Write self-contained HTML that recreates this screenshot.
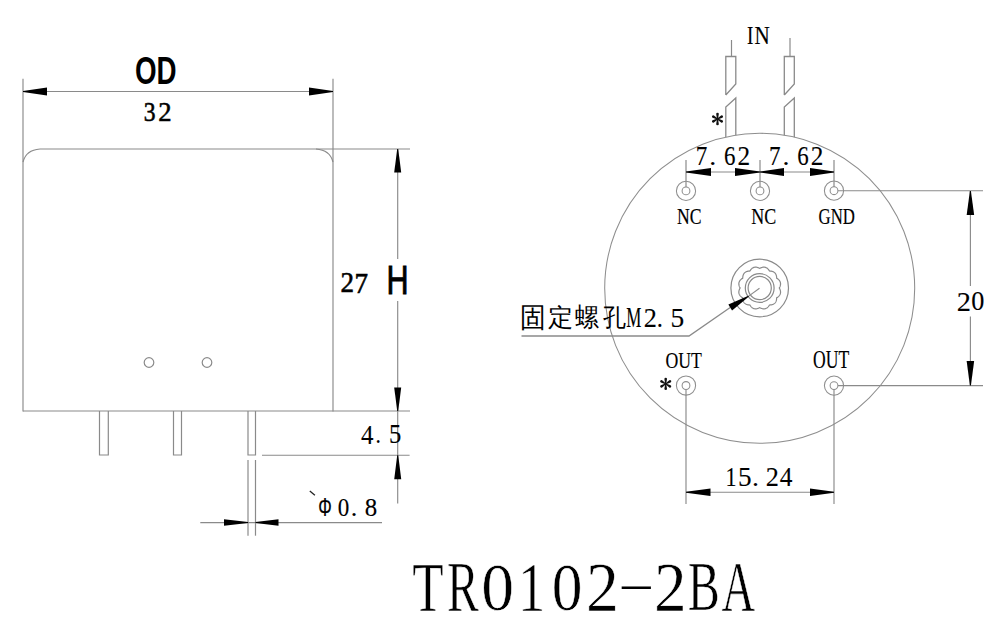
<!DOCTYPE html>
<html><head><meta charset="utf-8"><style>
html,body{margin:0;padding:0;background:#fff;}
svg{display:block;}
text{fill:#000;}
</style></head><body>
<svg width="1000" height="633" viewBox="0 0 1000 633" style="font-family:'Liberation Serif',serif">
<rect width="1000" height="633" fill="#fff"/>
<line x1="23" y1="78.7" x2="23" y2="411.5" stroke="#8a8a8a" stroke-width="1.15"/>
<line x1="333" y1="78.7" x2="333" y2="411.5" stroke="#8a8a8a" stroke-width="1.15"/>
<line x1="23" y1="91.5" x2="333" y2="91.5" stroke="#8a8a8a" stroke-width="1.15"/>
<line x1="40" y1="149" x2="410" y2="149" stroke="#8a8a8a" stroke-width="1.15"/>
<path d="M40,149 Q26,150 23,162" fill="none" stroke="#8a8a8a" stroke-width="1.15"/>
<path d="M316,149 Q330,150 333,162" fill="none" stroke="#8a8a8a" stroke-width="1.15"/>
<line x1="23" y1="411" x2="410" y2="411" stroke="#8a8a8a" stroke-width="1.15"/>
<circle cx="149" cy="362.5" r="4.8" fill="none" stroke="#8a8a8a" stroke-width="1.2"/>
<circle cx="207" cy="362.5" r="4.8" fill="none" stroke="#8a8a8a" stroke-width="1.2"/>
<polyline points="99.5,411 99.5,455 108.3,455 108.3,411" fill="none" stroke="#8a8a8a" stroke-width="1.2"/>
<polyline points="173.5,411 173.5,455 181.5,455 181.5,411" fill="none" stroke="#8a8a8a" stroke-width="1.2"/>
<polyline points="248,411 248,455 255.5,455 255.5,411" fill="none" stroke="#8a8a8a" stroke-width="1.2"/>
<line x1="262" y1="455.2" x2="409.6" y2="455.2" stroke="#8a8a8a" stroke-width="1.15"/>
<line x1="397.7" y1="149" x2="397.7" y2="259" stroke="#8a8a8a" stroke-width="1.15"/>
<line x1="397.7" y1="301" x2="397.7" y2="503.5" stroke="#8a8a8a" stroke-width="1.15"/>
<line x1="248" y1="460" x2="248" y2="535.7" stroke="#8a8a8a" stroke-width="1.2"/>
<line x1="255.5" y1="460" x2="255.5" y2="535.7" stroke="#8a8a8a" stroke-width="1.2"/>
<line x1="200.3" y1="522.6" x2="382" y2="522.6" stroke="#8a8a8a" stroke-width="1.15"/>
<line x1="309.8" y1="491" x2="314.9" y2="495.2" stroke="#222" stroke-width="1.3"/>
<circle cx="759.7" cy="288.3" r="155" fill="none" stroke="#8e8e8e" stroke-width="1.05"/>
<line x1="731.5" y1="40" x2="731.5" y2="56.5" stroke="#8a8a8a" stroke-width="1.2"/>
<polyline points="725.8,95 725.8,56.5 735.8,56.5 735.8,84 725.8,95" fill="none" stroke="#8a8a8a" stroke-width="1.3"/>
<polyline points="735.8,135.15369740016575 735.8,98 725.8,107 725.8,137.05255374056728" fill="none" stroke="#8a8a8a" stroke-width="1.3"/>
<line x1="790" y1="38" x2="790" y2="56.5" stroke="#8a8a8a" stroke-width="1.2"/>
<polyline points="784.3,95 784.3,56.5 794.3,56.5 794.3,84 784.3,95" fill="none" stroke="#8a8a8a" stroke-width="1.3"/>
<polyline points="794.3,137.211151966798 794.3,98 784.3,107 784.3,135.26457926349207" fill="none" stroke="#8a8a8a" stroke-width="1.3"/>
<circle cx="686" cy="190.9" r="9.6" fill="none" stroke="#8e8e8e" stroke-width="1.05"/>
<circle cx="686" cy="190.9" r="3.9" fill="none" stroke="#8e8e8e" stroke-width="1.05"/>
<circle cx="760" cy="190.9" r="9.6" fill="none" stroke="#8e8e8e" stroke-width="1.05"/>
<circle cx="760" cy="190.9" r="3.9" fill="none" stroke="#8e8e8e" stroke-width="1.05"/>
<circle cx="834" cy="190.7" r="9.6" fill="none" stroke="#8e8e8e" stroke-width="1.05"/>
<circle cx="834" cy="190.7" r="3.9" fill="none" stroke="#8e8e8e" stroke-width="1.05"/>
<circle cx="686" cy="385.5" r="9.6" fill="none" stroke="#8e8e8e" stroke-width="1.05"/>
<circle cx="686" cy="385.5" r="3.9" fill="none" stroke="#8e8e8e" stroke-width="1.05"/>
<circle cx="834" cy="385.6" r="9.6" fill="none" stroke="#8e8e8e" stroke-width="1.05"/>
<circle cx="834" cy="385.6" r="3.9" fill="none" stroke="#8e8e8e" stroke-width="1.05"/>
<line x1="686" y1="160" x2="686" y2="187" stroke="#8a8a8a" stroke-width="1.2"/>
<line x1="760" y1="160" x2="760" y2="187" stroke="#8a8a8a" stroke-width="1.2"/>
<line x1="834" y1="160" x2="834" y2="187" stroke="#8a8a8a" stroke-width="1.2"/>
<line x1="686" y1="172" x2="834" y2="172" stroke="#8a8a8a" stroke-width="1.15"/>
<line x1="838" y1="190.7" x2="983" y2="190.7" stroke="#8a8a8a" stroke-width="1.15"/>
<line x1="838" y1="385.6" x2="983" y2="385.6" stroke="#8a8a8a" stroke-width="1.15"/>
<line x1="970.4" y1="191" x2="970.4" y2="286" stroke="#8a8a8a" stroke-width="1.15"/>
<line x1="970.4" y1="316.4" x2="970.4" y2="385.6" stroke="#8a8a8a" stroke-width="1.15"/>
<line x1="686" y1="389.4" x2="686" y2="504" stroke="#8a8a8a" stroke-width="1.15"/>
<line x1="834" y1="389.5" x2="834" y2="504" stroke="#8a8a8a" stroke-width="1.15"/>
<line x1="686" y1="492.2" x2="834" y2="492.2" stroke="#8a8a8a" stroke-width="1.15"/>
<circle cx="759.7" cy="288.0" r="28.8" fill="none" stroke="#8a8a8a" stroke-width="1.2"/>
<circle cx="759.7" cy="288.0" r="14.4" fill="none" stroke="#8a8a8a" stroke-width="1.2"/>
<circle cx="759.7" cy="288.0" r="11.6" fill="none" stroke="#8a8a8a" stroke-width="1.2"/>
<polygon points="779.30,288.00 779.49,288.35 779.66,288.70 779.83,289.05 779.98,289.42 780.12,289.79 780.24,290.16 780.35,290.54 780.43,290.91 780.50,291.29 780.54,291.67 780.55,292.05 780.55,292.43 780.51,292.81 780.45,293.17 780.37,293.54 780.26,293.90 780.13,294.25 779.97,294.59 779.79,294.92 779.58,295.24 779.36,295.55 779.11,295.84 778.85,296.13 778.57,296.40 778.28,296.66 777.97,296.91 777.66,297.15 777.34,297.38 777.01,297.59 776.67,297.80 776.66,298.19 776.64,298.58 776.60,298.98 776.56,299.37 776.49,299.76 776.41,300.14 776.32,300.52 776.20,300.89 776.06,301.25 775.91,301.60 775.73,301.94 775.54,302.26 775.32,302.57 775.09,302.86 774.83,303.13 774.56,303.39 774.27,303.62 773.96,303.84 773.64,304.03 773.30,304.21 772.95,304.36 772.59,304.50 772.22,304.62 771.84,304.71 771.46,304.79 771.07,304.86 770.68,304.90 770.28,304.94 769.89,304.96 769.50,304.97 769.29,305.31 769.08,305.64 768.85,305.96 768.61,306.27 768.36,306.58 768.10,306.87 767.83,307.15 767.54,307.41 767.25,307.66 766.94,307.88 766.62,308.09 766.29,308.27 765.95,308.43 765.60,308.56 765.24,308.67 764.87,308.75 764.51,308.81 764.13,308.85 763.75,308.85 763.37,308.84 762.99,308.80 762.61,308.73 762.24,308.65 761.86,308.54 761.49,308.42 761.12,308.28 760.75,308.13 760.40,307.96 760.05,307.79 759.70,307.60 759.35,307.79 759.00,307.96 758.65,308.13 758.28,308.28 757.91,308.42 757.54,308.54 757.16,308.65 756.79,308.73 756.41,308.80 756.03,308.84 755.65,308.85 755.27,308.85 754.89,308.81 754.53,308.75 754.16,308.67 753.80,308.56 753.45,308.43 753.11,308.27 752.78,308.09 752.46,307.88 752.15,307.66 751.86,307.41 751.57,307.15 751.30,306.87 751.04,306.58 750.79,306.27 750.55,305.96 750.32,305.64 750.11,305.31 749.90,304.97 749.51,304.96 749.12,304.94 748.72,304.90 748.33,304.86 747.94,304.79 747.56,304.71 747.18,304.62 746.81,304.50 746.45,304.36 746.10,304.21 745.76,304.03 745.44,303.84 745.13,303.62 744.84,303.39 744.57,303.13 744.31,302.86 744.08,302.57 743.86,302.26 743.67,301.94 743.49,301.60 743.34,301.25 743.20,300.89 743.08,300.52 742.99,300.14 742.91,299.76 742.84,299.37 742.80,298.98 742.76,298.58 742.74,298.19 742.73,297.80 742.39,297.59 742.06,297.38 741.74,297.15 741.43,296.91 741.12,296.66 740.83,296.40 740.55,296.13 740.29,295.84 740.04,295.55 739.82,295.24 739.61,294.92 739.43,294.59 739.27,294.25 739.14,293.90 739.03,293.54 738.95,293.17 738.89,292.81 738.85,292.43 738.85,292.05 738.86,291.67 738.90,291.29 738.97,290.91 739.05,290.54 739.16,290.16 739.28,289.79 739.42,289.42 739.57,289.05 739.74,288.70 739.91,288.35 740.10,288.00 739.91,287.65 739.74,287.30 739.57,286.95 739.42,286.58 739.28,286.21 739.16,285.84 739.05,285.46 738.97,285.09 738.90,284.71 738.86,284.33 738.85,283.95 738.85,283.57 738.89,283.19 738.95,282.83 739.03,282.46 739.14,282.10 739.27,281.75 739.43,281.41 739.61,281.08 739.82,280.76 740.04,280.45 740.29,280.16 740.55,279.87 740.83,279.60 741.12,279.34 741.43,279.09 741.74,278.85 742.06,278.62 742.39,278.41 742.73,278.20 742.74,277.81 742.76,277.42 742.80,277.02 742.84,276.63 742.91,276.24 742.99,275.86 743.08,275.48 743.20,275.11 743.34,274.75 743.49,274.40 743.67,274.06 743.86,273.74 744.08,273.43 744.31,273.14 744.57,272.87 744.84,272.61 745.13,272.38 745.44,272.16 745.76,271.97 746.10,271.79 746.45,271.64 746.81,271.50 747.18,271.38 747.56,271.29 747.94,271.21 748.33,271.14 748.72,271.10 749.12,271.06 749.51,271.04 749.90,271.03 750.11,270.69 750.32,270.36 750.55,270.04 750.79,269.73 751.04,269.42 751.30,269.13 751.57,268.85 751.86,268.59 752.15,268.34 752.46,268.12 752.78,267.91 753.11,267.73 753.45,267.57 753.80,267.44 754.16,267.33 754.53,267.25 754.89,267.19 755.27,267.15 755.65,267.15 756.03,267.16 756.41,267.20 756.79,267.27 757.16,267.35 757.54,267.46 757.91,267.58 758.28,267.72 758.65,267.87 759.00,268.04 759.35,268.21 759.70,268.40 760.05,268.21 760.40,268.04 760.75,267.87 761.12,267.72 761.49,267.58 761.86,267.46 762.24,267.35 762.61,267.27 762.99,267.20 763.37,267.16 763.75,267.15 764.13,267.15 764.51,267.19 764.87,267.25 765.24,267.33 765.60,267.44 765.95,267.57 766.29,267.73 766.62,267.91 766.94,268.12 767.25,268.34 767.54,268.59 767.83,268.85 768.10,269.13 768.36,269.42 768.61,269.73 768.85,270.04 769.08,270.36 769.29,270.69 769.50,271.03 769.89,271.04 770.28,271.06 770.68,271.10 771.07,271.14 771.46,271.21 771.84,271.29 772.22,271.38 772.59,271.50 772.95,271.64 773.30,271.79 773.64,271.97 773.96,272.16 774.27,272.38 774.56,272.61 774.83,272.87 775.09,273.14 775.32,273.43 775.54,273.74 775.73,274.06 775.91,274.40 776.06,274.75 776.20,275.11 776.32,275.48 776.41,275.86 776.49,276.24 776.56,276.63 776.60,277.02 776.64,277.42 776.66,277.81 776.67,278.20 777.01,278.41 777.34,278.62 777.66,278.85 777.97,279.09 778.28,279.34 778.57,279.60 778.85,279.87 779.11,280.16 779.36,280.45 779.58,280.76 779.79,281.08 779.97,281.41 780.13,281.75 780.26,282.10 780.37,282.46 780.45,282.83 780.51,283.19 780.55,283.57 780.55,283.95 780.54,284.33 780.50,284.71 780.43,285.09 780.35,285.46 780.24,285.84 780.12,286.21 779.98,286.58 779.83,286.95 779.66,287.30 779.49,287.65" fill="none" stroke="#8a8a8a" stroke-width="1.2"/>
<polyline points="521.5,336 689,336 730.2,307.5" fill="none" stroke="#8a8a8a" stroke-width="1.3"/>
<line x1="748.7" y1="296.1" x2="759.5" y2="288.3" stroke="#8a8a8a" stroke-width="1.1"/>
<polygon points="23.00,92.00 47.00,95.50 47.00,87.50 23.00,91.00" fill="#000"/>
<polygon points="333.00,91.00 309.00,87.50 309.00,95.50 333.00,92.00" fill="#000"/>
<polygon points="397.20,149.00 394.20,172.60 401.20,172.60 398.20,149.00" fill="#000"/>
<polygon points="398.20,411.00 401.20,387.50 394.20,387.50 397.20,411.00" fill="#000"/>
<polygon points="397.20,455.20 394.20,479.30 401.20,479.30 398.20,455.20" fill="#000"/>
<polygon points="248.00,522.10 224.00,519.35 224.00,525.85 248.00,523.10" fill="#000"/>
<polygon points="255.50,523.10 278.50,525.85 278.50,519.35 255.50,522.10" fill="#000"/>
<polygon points="686.00,172.50 711.00,176.00 711.00,168.00 686.00,171.50" fill="#000"/>
<polygon points="760.00,171.50 735.00,168.00 735.00,176.00 760.00,172.50" fill="#000"/>
<polygon points="760.00,172.50 784.00,176.00 784.00,168.00 760.00,171.50" fill="#000"/>
<polygon points="834.00,171.50 810.00,168.00 810.00,176.00 834.00,172.50" fill="#000"/>
<polygon points="969.90,191.00 966.65,215.00 974.15,215.00 970.90,191.00" fill="#000"/>
<polygon points="970.90,385.60 974.15,361.00 966.65,361.00 969.90,385.60" fill="#000"/>
<polygon points="686.00,492.70 710.50,495.95 710.50,488.45 686.00,491.70" fill="#000"/>
<polygon points="834.00,491.70 810.00,488.45 810.00,495.95 834.00,492.70" fill="#000"/>
<polygon points="748.44,295.67 728.36,304.52 732.04,310.48 748.96,296.53" fill="#000"/>
<path d="M718.00,119.00 L718.80,114.10 A1.3,1.3 0 0 0 716.20,114.10 L717.00,119.00 Z" fill="#111"/>
<path d="M717.75,119.43 L722.39,117.68 A1.3,1.3 0 0 0 721.09,115.42 L717.25,118.57 Z" fill="#111"/>
<path d="M717.75,118.57 L713.91,115.42 A1.3,1.3 0 0 0 712.61,117.68 L717.25,119.43 Z" fill="#111"/>
<path d="M717.00,119.00 L716.20,123.90 A1.3,1.3 0 0 0 718.80,123.90 L718.00,119.00 Z" fill="#111"/>
<path d="M717.25,118.57 L712.61,120.32 A1.3,1.3 0 0 0 713.91,122.58 L717.75,119.43 Z" fill="#111"/>
<path d="M717.25,119.43 L721.09,122.58 A1.3,1.3 0 0 0 722.39,120.32 L717.75,118.57 Z" fill="#111"/>
<path d="M666.20,383.90 L667.00,379.00 A1.3,1.3 0 0 0 664.40,379.00 L665.20,383.90 Z" fill="#111"/>
<path d="M665.95,384.33 L670.59,382.58 A1.3,1.3 0 0 0 669.29,380.32 L665.45,383.47 Z" fill="#111"/>
<path d="M665.95,383.47 L662.11,380.32 A1.3,1.3 0 0 0 660.81,382.58 L665.45,384.33 Z" fill="#111"/>
<path d="M665.20,383.90 L664.40,388.80 A1.3,1.3 0 0 0 667.00,388.80 L666.20,383.90 Z" fill="#111"/>
<path d="M665.45,383.47 L660.81,385.22 A1.3,1.3 0 0 0 662.11,387.48 L665.95,384.33 Z" fill="#111"/>
<path d="M665.45,384.33 L669.29,387.48 A1.3,1.3 0 0 0 670.59,385.22 L665.95,383.47 Z" fill="#111"/>
<text transform="matrix(0.27753 0 0 0.39096 134.93 83.79)" font-family="Liberation Sans" font-weight="bold" font-size="100">OD</text>
<text transform="matrix(0.23585 0 0 0.27709 143.77 120.89)" font-family="Liberation Serif" font-weight="normal" font-size="100" stroke="#000" stroke-width="2.14">3</text>
<text transform="matrix(0.26667 0 0 0.27460 158.34 121.02)" font-family="Liberation Serif" font-weight="normal" font-size="100" stroke="#000" stroke-width="2.03">2</text>
<text transform="matrix(0.27141 0 0 0.28949 340.43 292.23)" font-family="Liberation Serif" font-weight="normal" font-size="100" stroke="#000" stroke-width="1.96">2</text>
<text transform="matrix(0.27141 0 0 0.29638 354.58 292.53)" font-family="Liberation Serif" font-weight="normal" font-size="100" stroke="#000" stroke-width="1.94">7</text>
<text transform="matrix(0.30578 0 0 0.40107 386.51 293.60)" font-family="Liberation Sans" font-weight="normal" font-size="100" stroke="#000" stroke-width="2.26">H</text>
<text transform="matrix(0.24917 0 0 0.27654 361.07 443.64)" font-family="Liberation Serif" font-weight="normal" font-size="100" stroke="#000" stroke-width="0.46">4</text>
<text transform="matrix(0.21440 0 0 0.26240 375.52 443.23)" font-family="Liberation Serif" font-weight="normal" font-size="100" stroke="#000" stroke-width="0.50">.</text>
<text transform="matrix(0.24604 0 0 0.27654 389.01 443.21)" font-family="Liberation Serif" font-weight="normal" font-size="100" stroke="#000" stroke-width="0.46">5</text>
<text transform="matrix(0.16924 0 0 0.25183 318.21 516.01)" font-family="Liberation Sans" font-weight="normal" font-size="100" stroke="#000" stroke-width="0.95">Φ</text>
<text transform="matrix(0.23040 0 0 0.24262 337.64 515.86)" font-family="Liberation Serif" font-weight="normal" font-size="100" stroke="#000" stroke-width="0.51">0</text>
<text transform="matrix(0.26240 0 0 0.26240 350.72 515.53)" font-family="Liberation Serif" font-weight="normal" font-size="100" stroke="#000" stroke-width="0.46">.</text>
<text transform="matrix(0.24869 0 0 0.24553 364.78 515.86)" font-family="Liberation Serif" font-weight="normal" font-size="100" stroke="#000" stroke-width="0.49">8</text>
<text transform="matrix(0.19022 0 0 0.24914 746.98 43.92)" font-family="Liberation Serif" font-weight="normal" font-size="100" stroke="#000" stroke-width="0.68">I</text>
<text transform="matrix(0.21164 0 0 0.25219 754.54 44.12)" font-family="Liberation Serif" font-weight="normal" font-size="100" stroke="#000" stroke-width="0.65">N</text>
<text transform="matrix(0.23182 0 0 0.27703 695.71 165.04)" font-family="Liberation Serif" font-weight="normal" font-size="100" stroke="#000" stroke-width="0.47">7</text>
<text transform="matrix(0.27840 0 0 0.25440 709.22 164.64)" font-family="Liberation Serif" font-weight="normal" font-size="100" stroke="#000" stroke-width="0.45">.</text>
<text transform="matrix(0.22908 0 0 0.26444 724.04 164.63)" font-family="Liberation Serif" font-weight="normal" font-size="100" stroke="#000" stroke-width="0.49">6</text>
<text transform="matrix(0.25316 0 0 0.27059 737.47 165.04)" font-family="Liberation Serif" font-weight="normal" font-size="100" stroke="#000" stroke-width="0.46">2</text>
<text transform="matrix(0.23182 0 0 0.27703 769.01 165.04)" font-family="Liberation Serif" font-weight="normal" font-size="100" stroke="#000" stroke-width="0.47">7</text>
<text transform="matrix(0.27840 0 0 0.25440 782.52 164.64)" font-family="Liberation Serif" font-weight="normal" font-size="100" stroke="#000" stroke-width="0.45">.</text>
<text transform="matrix(0.22908 0 0 0.26444 797.34 164.63)" font-family="Liberation Serif" font-weight="normal" font-size="100" stroke="#000" stroke-width="0.49">6</text>
<text transform="matrix(0.25316 0 0 0.27059 810.77 165.04)" font-family="Liberation Serif" font-weight="normal" font-size="100" stroke="#000" stroke-width="0.46">2</text>
<text transform="matrix(0.17686 0 0 0.23927 677.10 224.25)" font-family="Liberation Serif" font-weight="normal" font-size="100" stroke="#000" stroke-width="0.72">NC</text>
<text transform="matrix(0.17987 0 0 0.23927 751.19 224.25)" font-family="Liberation Serif" font-weight="normal" font-size="100" stroke="#000" stroke-width="0.72">NC</text>
<text transform="matrix(0.16781 0 0 0.22327 818.55 224.08)" font-family="Liberation Serif" font-weight="normal" font-size="100" stroke="#000" stroke-width="0.77">GND</text>
<text transform="matrix(0.25332 0 0 0.27563 519.52 326.55)" font-family="Liberation Serif" font-weight="300" font-size="100">固</text>
<text transform="matrix(0.25586 0 0 0.25475 547.50 326.41)" font-family="Liberation Serif" font-weight="300" font-size="100">定</text>
<text transform="matrix(0.24365 0 0 0.26289 574.63 326.29)" font-family="Liberation Serif" font-weight="300" font-size="100">螺</text>
<text transform="matrix(0.22944 0 0 0.24946 603.40 326.18)" font-family="Liberation Serif" font-weight="300" font-size="100">孔</text>
<text transform="matrix(0.16966 0 0 0.28770 626.29 327.44)" font-family="Liberation Serif" font-weight="normal" font-size="100" stroke="#000" stroke-width="0.52">M</text>
<text transform="matrix(0.26264 0 0 0.28100 643.64 327.44)" font-family="Liberation Serif" font-weight="normal" font-size="100" stroke="#000" stroke-width="0.44">2</text>
<text transform="matrix(0.24640 0 0 0.27040 656.82 327.02)" font-family="Liberation Serif" font-weight="normal" font-size="100" stroke="#000" stroke-width="0.46">.</text>
<text transform="matrix(0.27449 0 0 0.28100 670.57 327.00)" font-family="Liberation Serif" font-weight="normal" font-size="100" stroke="#000" stroke-width="0.43">5</text>
<text transform="matrix(0.17726 0 0 0.23927 665.52 367.75)" font-family="Liberation Serif" font-weight="normal" font-size="100" stroke="#000" stroke-width="0.72">OUT</text>
<text transform="matrix(0.17578 0 0 0.24218 813.03 367.95)" font-family="Liberation Serif" font-weight="normal" font-size="100" stroke="#000" stroke-width="0.72">OUT</text>
<text transform="matrix(0.28397 0 0 0.28100 956.87 310.84)" font-family="Liberation Serif" font-weight="normal" font-size="100" stroke="#000" stroke-width="0.42">2</text>
<text transform="matrix(0.26240 0 0 0.27462 971.24 310.41)" font-family="Liberation Serif" font-weight="normal" font-size="100" stroke="#000" stroke-width="0.45">0</text>
<text transform="matrix(0.22080 0 0 0.27207 725.53 485.94)" font-family="Liberation Serif" font-weight="normal" font-size="100" stroke="#000" stroke-width="0.49">1</text>
<text transform="matrix(0.27212 0 0 0.27207 737.98 485.51)" font-family="Liberation Serif" font-weight="normal" font-size="100" stroke="#000" stroke-width="0.44">5</text>
<text transform="matrix(0.27840 0 0 0.26240 751.92 485.53)" font-family="Liberation Serif" font-weight="normal" font-size="100" stroke="#000" stroke-width="0.44">.</text>
<text transform="matrix(0.26264 0 0 0.27207 765.64 485.94)" font-family="Liberation Serif" font-weight="normal" font-size="100" stroke="#000" stroke-width="0.45">2</text>
<text transform="matrix(0.25344 0 0 0.27207 779.66 485.94)" font-family="Liberation Serif" font-weight="normal" font-size="100" stroke="#000" stroke-width="0.46">4</text>
<text transform="matrix(0.51368 0 0 0.70857 412.15 611.45)" font-family="Liberation Serif" font-weight="normal" font-size="100" stroke="#fff" stroke-width="0.82">T</text>
<text transform="matrix(0.47695 0 0 0.70857 447.00 611.45)" font-family="Liberation Serif" font-weight="normal" font-size="100" stroke="#fff" stroke-width="0.84">R</text>
<text transform="matrix(0.65600 0 0 0.67636 481.30 610.39)" font-family="Liberation Serif" font-weight="normal" font-size="100" stroke="#fff" stroke-width="0.75">0</text>
<text transform="matrix(0.54667 0 0 0.69209 518.08 611.45)" font-family="Liberation Serif" font-weight="normal" font-size="100" stroke="#fff" stroke-width="0.81">1</text>
<text transform="matrix(0.61486 0 0 0.67636 551.63 610.39)" font-family="Liberation Serif" font-weight="normal" font-size="100" stroke="#fff" stroke-width="0.77">0</text>
<text transform="matrix(0.65659 0 0 0.69209 585.90 611.45)" font-family="Liberation Serif" font-weight="normal" font-size="100" stroke="#fff" stroke-width="0.74">2</text>
<text transform="matrix(1.12565 0 0 0.34133 617.48 595.80)" font-family="Liberation Serif" font-weight="normal" font-size="100">-</text>
<text transform="matrix(0.65185 0 0 0.69209 654.11 611.45)" font-family="Liberation Serif" font-weight="normal" font-size="100" stroke="#fff" stroke-width="0.74">2</text>
<text transform="matrix(0.48082 0 0 0.69209 687.80 610.37)" font-family="Liberation Serif" font-weight="normal" font-size="100" stroke="#fff" stroke-width="0.85">B</text>
<text transform="matrix(0.46609 0 0 0.70995 721.55 611.45)" font-family="Liberation Serif" font-weight="normal" font-size="100" stroke="#fff" stroke-width="0.85">A</text>
</svg>
</body></html>
